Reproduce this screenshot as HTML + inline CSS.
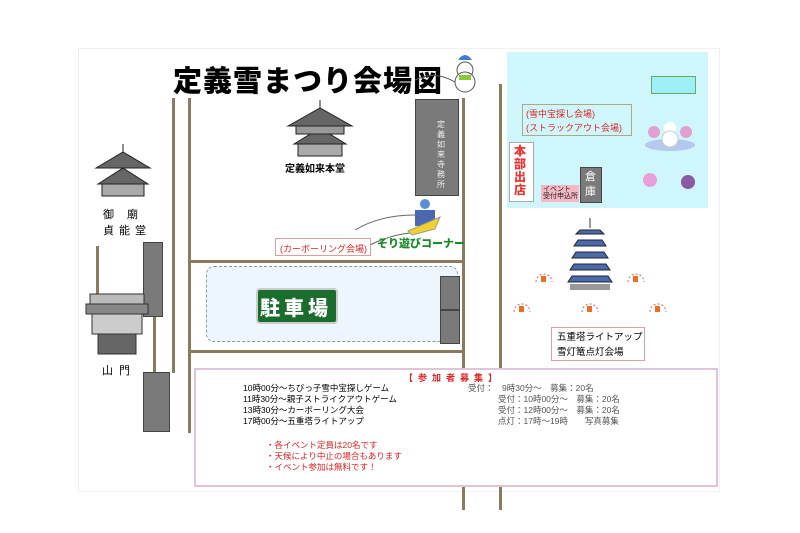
<!DOCTYPE html>
<html><head><meta charset="utf-8"><style>
body{margin:0;width:800px;height:533px;background:#fff;position:relative;overflow:hidden;font-family:"Liberation Sans","Noto Sans CJK JP",sans-serif}
div{position:absolute;box-sizing:border-box}
.v{width:3px;background:#8b7b5e}
.h{height:3px;background:#8b7b5e}
.g{background:#7a7a7a;border:1px solid #444}
.t{white-space:nowrap}
</style></head><body>
<div style="left:78px;top:48px;width:642px;height:444px;border:1px solid #f3eef3"></div>
<div class="t" style="left:173px;top:58px;font-size:29px;font-weight:900;letter-spacing:1px">定義雪まつり会場図</div>
<svg style="position:absolute;left:415px;top:48px" width="70" height="50"><path d="M0 32 Q20 22 40 34 Q50 28 60 36" stroke="#555" fill="none"/><circle cx="50" cy="22" r="8" fill="#fff" stroke="#555"/><circle cx="50" cy="34" r="10" fill="#fff" stroke="#555"/><path d="M43 12 Q50 2 57 12 Z" fill="#3a7fd0"/><rect x="44" y="27" width="12" height="5" fill="#8c3"/></svg>
<!-- roads -->
<div class="v" style="left:172px;top:98px;height:275px"></div>
<div class="v" style="left:188px;top:98px;height:335px"></div>
<div class="v" style="left:462px;top:98px;height:412px"></div>
<div class="v" style="left:499px;top:84px;height:426px"></div>
<div class="v" style="left:96px;top:246px;height:60px"></div>
<div class="v" style="left:153px;top:246px;height:130px"></div>
<div class="h" style="left:190px;top:260px;width:272px"></div>
<div class="h" style="left:190px;top:350px;width:272px"></div>
<!-- parking -->
<div style="left:206px;top:266px;width:252px;height:76px;background:#eef6fd;border:1px dashed #8899aa;border-radius:8px"></div>
<div style="left:256px;top:288px;width:82px;height:36px;background:#1b6d2e;border-radius:4px;border:2px solid #ccc"></div>
<div class="t" style="left:260px;top:292px;font-size:20px;font-weight:900;color:#fff;letter-spacing:4px">駐車場</div>
<!-- grey blocks -->
<div class="g" style="left:415px;top:99px;width:44px;height:97px"></div>
<div class="t" style="left:437px;top:120px;width:10px;font-size:8px;color:#eee;line-height:10px;white-space:normal">定義如来寺務所</div>
<div class="g" style="left:143px;top:242px;width:20px;height:75px"></div>
<div class="g" style="left:143px;top:372px;width:27px;height:60px"></div>
<div class="g" style="left:440px;top:276px;width:20px;height:34px"></div>
<div class="g" style="left:440px;top:310px;width:20px;height:34px"></div>
<!-- temples -->
<svg style="position:absolute;left:280px;top:98px" width="80" height="60"><path d="M40 2 L40 10 M8 28 L40 10 L72 28 Z M14 46 L40 30 L66 46 Z" fill="#666" stroke="#222"/><rect x="16" y="28" width="48" height="8" fill="#999" stroke="#222"/><rect x="18" y="46" width="44" height="12" fill="#aaa" stroke="#222"/></svg>
<div class="t" style="left:285px;top:160px;font-size:10px;font-weight:bold">定義如来本堂</div>
<svg style="position:absolute;left:88px;top:142px" width="70" height="55"><path d="M35 2 L35 10 M8 26 L35 10 L62 26 Z M10 42 L35 26 L60 42 Z" fill="#666" stroke="#222"/><rect x="14" y="42" width="42" height="12" fill="#aaa" stroke="#222"/></svg>
<div class="t" style="left:103px;top:207px;font-size:11px;letter-spacing:5px;line-height:16px">御 廟<br>貞能堂</div>
<svg style="position:absolute;left:82px;top:292px" width="70" height="65"><rect x="8" y="2" width="54" height="10" fill="#bbb" stroke="#333"/><rect x="4" y="12" width="62" height="10" fill="#888" stroke="#333"/><rect x="10" y="22" width="50" height="20" fill="#ccc" stroke="#333"/><rect x="16" y="42" width="38" height="20" fill="#666" stroke="#333"/></svg>
<div class="t" style="left:102px;top:362px;font-size:11px;letter-spacing:6px">山門</div>
<!-- sled -->
<svg style="position:absolute;left:350px;top:195px" width="100" height="60"><path d="M5 35 Q30 20 65 20 M20 50 Q40 40 60 38" stroke="#666" fill="none"/><circle cx="75" cy="9" r="5" fill="#5a8fd8"/><rect x="65" y="15" width="20" height="16" fill="#4b67b0"/><path d="M58 36 L90 22 L85 34 L62 40 Z" fill="#f2d22a" stroke="#999"/></svg>
<div class="t" style="left:275px;top:238px;width:96px;height:18px;border:1px solid #d8a0a0;font-size:9px;color:#d22;padding:3px 4px;background:#fff">(カーボーリング会場)</div>
<div class="t" style="left:377px;top:235px;font-size:11px;font-weight:900;color:#1a8a2a">そり遊びコーナー</div>
<!-- cyan area -->
<div style="left:507px;top:52px;width:201px;height:156px;background:#cff7fb"></div>
<div style="left:651px;top:76px;width:45px;height:18px;background:#9ef0f6;border:1px solid #6a6"></div>
<div class="t" style="left:522px;top:104px;width:110px;height:32px;border:1px solid #aa8;font-size:9px;color:#d22;padding:2px 3px;line-height:14px;background:#cff7fb">(雪中宝探し会場)<br>(ストラックアウト会場)</div>
<div style="left:509px;top:142px;width:25px;height:60px;background:#fff;border:1px solid #aaa"></div>
<div class="t" style="left:514px;top:145px;width:16px;font-size:12px;font-weight:900;color:#e33;line-height:13px;white-space:normal">本部出店</div>
<div style="left:541px;top:185px;width:38px;height:17px;background:#f5b8c4"></div>
<div class="t" style="left:543px;top:186px;font-size:7px;color:#222;line-height:7px">イベント<br>受付申込所</div>
<div class="g" style="left:580px;top:167px;width:22px;height:36px"></div>
<div class="t" style="left:585px;top:170px;width:12px;font-size:11px;color:#fff;line-height:15px;white-space:normal">倉庫</div>
<svg style="position:absolute;left:640px;top:110px" width="65" height="90"><ellipse cx="30" cy="35" rx="25" ry="6" fill="#b5c8ee"/><circle cx="30" cy="18" r="6" fill="#fff"/><circle cx="30" cy="29" r="8" fill="#fff" stroke="#ccc"/><circle cx="14" cy="22" r="6" fill="#e0a0d0"/><circle cx="46" cy="22" r="6" fill="#e0a0d0"/><circle cx="10" cy="70" r="7" fill="#e8a0d8"/><circle cx="48" cy="72" r="7" fill="#8a5aa0"/></svg>
<!-- pagoda -->
<svg style="position:absolute;left:560px;top:218px" width="60" height="75"><path d="M30 0 L30 10" stroke="#333"/><g fill="#4a6aa8" stroke="#223"><path d="M16 16 L44 16 L40 12 L20 12Z"/><path d="M14 28 L46 28 L42 22 L18 22Z"/><path d="M12 40 L48 40 L44 34 L16 34Z"/><path d="M10 52 L50 52 L46 46 L14 46Z"/><path d="M8 64 L52 64 L48 58 L12 58Z"/></g><rect x="10" y="66" width="40" height="6" fill="#999"/></svg>
<svg style="position:absolute;left:500px;top:262px" width="200" height="60"><g fill="none" stroke="#d66" stroke-dasharray="2 2"><path d="M36 20 A8 8 0 0 1 52 20"/><path d="M128 20 A8 8 0 0 1 144 20"/><path d="M14 50 A8 8 0 0 1 30 50"/><path d="M82 50 A8 8 0 0 1 98 50"/><path d="M150 50 A8 8 0 0 1 166 50"/></g><g fill="#e87020"><rect x="41" y="14" width="5" height="6"/><rect x="133" y="14" width="5" height="6"/><rect x="19" y="44" width="5" height="6"/><rect x="87" y="44" width="5" height="6"/><rect x="155" y="44" width="5" height="6"/></g></svg>
<div class="t" style="left:551px;top:327px;width:94px;height:34px;border:1px solid #d8a0a0;font-size:9.5px;padding:2px 5px;line-height:15px;background:#fff">五重塔ライトアップ<br>雪灯篭点灯会場</div>
<!-- bottom box -->
<div style="left:194px;top:368px;width:524px;height:119px;border:2px solid #e0c4dc;background:#fff"></div>
<div class="t" style="left:404px;top:371px;font-size:9px;color:#d22;letter-spacing:5px;font-weight:bold">【参加者募集】</div>
<div class="t" style="left:243px;top:383px;font-size:8.5px;line-height:11px">10時00分～ちびっ子雪中宝探しゲーム<br>11時30分～親子ストライクアウトゲーム<br>13時30分～カーボーリング大会<br>17時00分～五重塔ライトアップ</div>
<div class="t" style="left:468px;top:383px;font-size:8.5px;line-height:11px;color:#555">受付：　9時30分～　募集：20名</div>
<div class="t" style="left:498px;top:394px;font-size:8.5px;line-height:11px;color:#555">受付：10時00分～　募集：20名<br>受付：12時00分～　募集：20名<br>点灯：17時～19時　　写真募集</div>
<div class="t" style="left:266px;top:440px;font-size:8.5px;line-height:11px;color:#d22">・各イベント定員は20名です<br>・天候により中止の場合もあります<br>・イベント参加は無料です！</div>
</body></html>
